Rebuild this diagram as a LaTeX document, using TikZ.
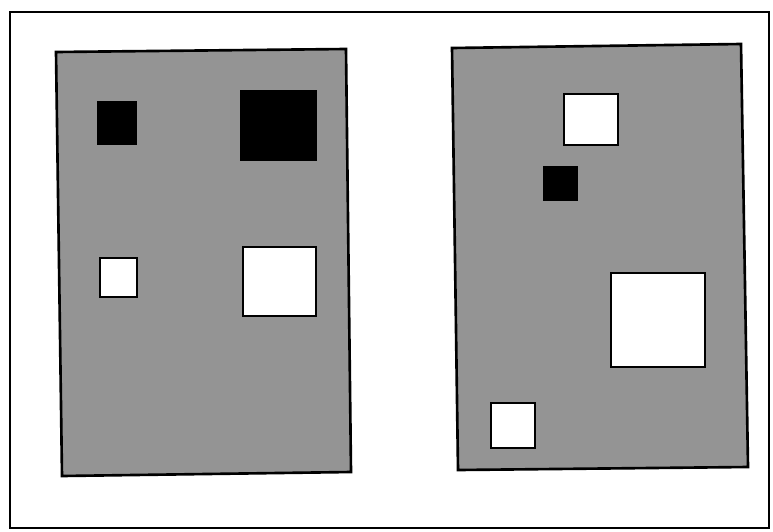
\documentclass[tikz,border=0pt]{standalone}
\usepackage{xcolor}
\usepackage{tikz}

\begin{document}
\begin{tikzpicture}[
  x=0.02cm,y=-0.02cm,
  frm/.style={draw,line width=1.6pt},
  panel/.style={draw,line width=1.5pt,fill=black!42,line join=miter},
  dk/.style={draw,line width=0.5pt,fill=black},
  lt/.style={draw,line width=0.8pt,fill=white}
]
\useasboundingbox (0,0) rectangle (773,531);
\draw[frm] (10,12) rectangle (769,528);
% left panel
\draw[panel] (56,52) -- (346,49) -- (351,472) -- (62,476) -- cycle;
\draw[dk] (97,101) rectangle (136,144);
\draw[dk] (240,90) rectangle (316,160);
\draw[lt] (100,258) rectangle (137,297);
\draw[lt] (243,247) rectangle (316,316);
% right panel
\draw[panel] (452,48) -- (741,44) -- (748,467) -- (458,470) -- cycle;
\draw[lt] (564,94) rectangle (618,145);
\draw[dk] (543,166) rectangle (577,200);
\draw[lt] (611,273) rectangle (705,367);
\draw[lt] (491,403) rectangle (535,448);
\end{tikzpicture}
\end{document}
